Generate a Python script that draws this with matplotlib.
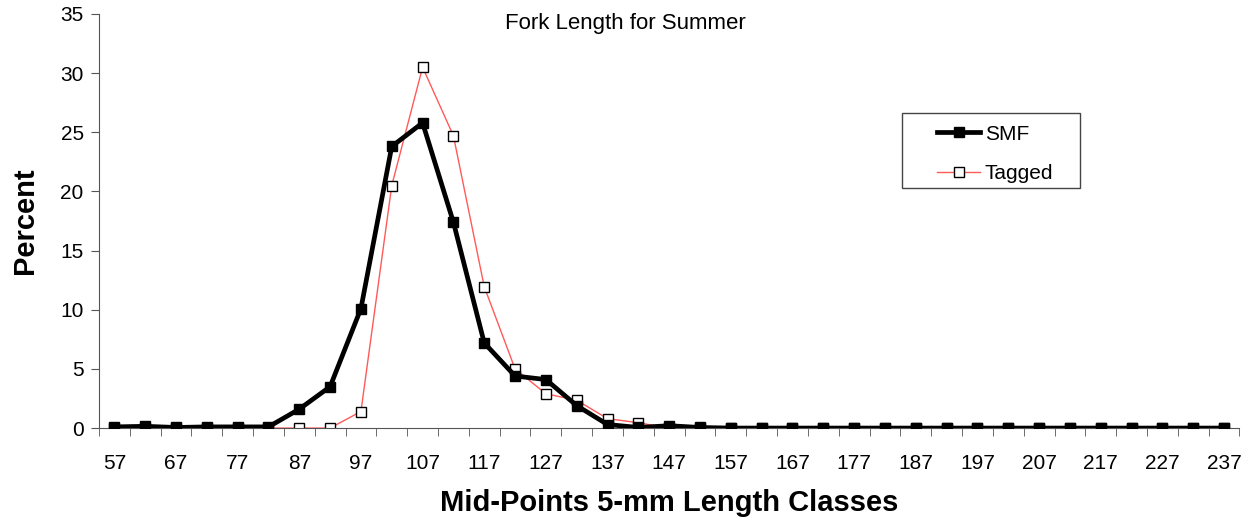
import numpy as np
import matplotlib.pyplot as plt
from matplotlib.patches import Rectangle

plt.rcParams['font.family'] = ['Liberation Sans', 'DejaVu Sans']

# Mid-points of 5-mm length classes
classes = list(range(57, 238, 5))

# Percent per class
smf = [0.1, 0.15, 0.05, 0.1, 0.1, 0.1, 1.6, 3.5, 10.1, 23.8, 25.8, 17.4,
       7.2, 4.4, 4.1, 1.9, 0.3, 0.05, 0.2, 0.05, 0, 0, 0, 0, 0, 0, 0, 0, 0,
       0, 0, 0, 0, 0, 0, 0, 0]
tagged = [0, 0, 0, 0, 0, 0, 0, 0, 1.4, 20.5, 30.5, 24.7, 11.95, 5.0, 2.9,
          2.35, 0.8, 0.45, 0, 0, 0, 0, 0, 0, 0, 0, 0, 0, 0, 0, 0, 0, 0, 0,
          0, 0, 0]

x = np.arange(len(classes))

fig = plt.figure(figsize=(12.52, 5.17), dpi=100)
ax = fig.add_axes([0.079, 0.172, 0.911, 0.801])

ax.plot(x, tagged, color='#ff5a5a', lw=1.0, marker='s', ms=6.5,
        mfc='white', mec='black', mew=1.0, label='Tagged', zorder=2)
ax.plot(x, smf, color='black', lw=3.4, marker='s', ms=7.5,
        mfc='black', mec='black', label='SMF', zorder=3)

ax.set_xlim(-0.5, len(classes) - 0.5)
ax.set_ylim(0, 35)
ax.set_yticks(range(0, 36, 5))

ax.set_xticks(x[::2])
ax.set_xticklabels([str(c) for c in classes[::2]])
ax.set_xticks(np.arange(-0.5, len(classes), 1), minor=True)
ax.tick_params(axis='x', which='major', length=0, pad=19, labelsize=15)
ax.tick_params(axis='x', which='minor', length=6, direction='out', color='#555555')
ax.tick_params(axis='y', length=6, direction='out', labelsize=15, pad=5,
               color='#555555')

for s in ['top', 'right']:
    ax.spines[s].set_visible(False)
for s in ['left', 'bottom']:
    ax.spines[s].set_color('#555555')

ax.set_ylabel('Percent', fontsize=21, fontweight='bold', labelpad=15)
ax.set_xlabel('Mid-Points 5-mm Length Classes', fontsize=21,
              fontweight='bold', labelpad=11)
ax.text(0.462, 0.976, 'Fork Length for Summer', transform=ax.transAxes,
        ha='center', va='center', fontsize=16)

# legend box drawn separately, entries placed inside it
ax.add_patch(Rectangle((0.704, 0.580), 0.156, 0.181, transform=ax.transAxes,
                       facecolor='white', edgecolor='#444444', lw=1.0,
                       zorder=4, clip_on=False))
handles, labels = ax.get_legend_handles_labels()
leg = ax.legend(handles[::-1], labels[::-1], loc='upper left',
                bbox_to_anchor=(0.7345, 0.733), fontsize=15, frameon=False,
                handlelength=2.1, borderpad=0, borderaxespad=0,
                labelspacing=1.0, handletextpad=0.2)
leg.set_zorder(5)

fig.savefig('out.png', dpi=100)
